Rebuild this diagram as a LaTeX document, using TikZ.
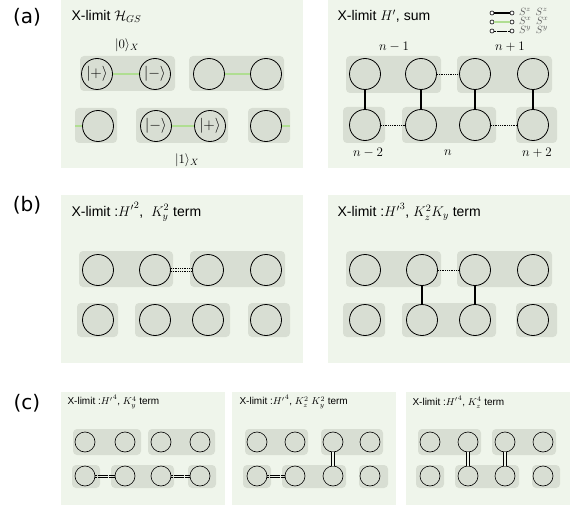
\documentclass[tikz,border=0pt]{standalone}
\usepackage{fix-cm}
\usepackage{amsmath, amssymb}
\usepackage[no-math]{fontspec}
\setmainfont{Liberation Sans}
\newfontfamily\labfont{DejaVu Sans}
\definecolor{panelbg}{RGB}{239,245,235}
\definecolor{boxgray}{RGB}{216,222,211}
\definecolor{xgreen}{RGB}{112,186,82}
\definecolor{xgreenlight}{RGB}{176,222,146}
\definecolor{leggray}{RGB}{95,95,95}

\begin{document}
\begin{tikzpicture}[x=1pt, y=-1pt,
    panel/.style={fill=panelbg},
    pairbox/.style={fill=boxgray, rounded corners=4pt},
    site/.style={circle, draw, line width=0.8pt, minimum size=31pt, inner sep=0pt, font=\fontsize{15}{15}\selectfont},
    smallsite/.style={circle, draw, line width=0.6pt, minimum size=20pt, inner sep=0pt},
    zz/.style={line width=1.8pt},
    xx/.style={draw=xgreen, double=xgreenlight, double distance=1.1pt, line width=0.7pt},
    yy/.style={line width=0.9pt, dash pattern=on 0.9pt off 0.9pt},
    yysmall/.style={line width=0.6pt, dash pattern=on 0.5pt off 0.6pt},
    zzdouble/.style={draw=black, double=panelbg, line width=0.8pt, double distance=2pt},
    legdot/.style={circle, draw, fill=white, line width=0.6pt, minimum size=4pt, inner sep=0pt},
    legtext/.style={anchor=west, text=leggray, font=\fontsize{10.5}{10.5}\selectfont, inner sep=0pt},
    title/.style={anchor=west, font=\fontsize{14}{16}\selectfont},
    smalltitle/.style={anchor=west, font=\fontsize{10}{12}\selectfont},
    partlabel/.style={font=\labfont\fontsize{20}{22}\selectfont},
    sitelabel/.style={font=\fontsize{13}{15}\selectfont}]
    \useasboundingbox (0,0) rectangle (581,508);

    % Panels
    \fill[panel] (61,0) rectangle (303,168);
    \fill[panel] (328,0) rectangle (570,168);
    \fill[panel] (61,195) rectangle (303,363);
    \fill[panel] (328,195) rectangle (570,363);
    \fill[panel] (61,392) rectangle (225,505);
    \fill[panel] (232,392) rectangle (396,505);
    \fill[panel] (406,392) rectangle (570,505);

    % Boxes (a)
    \fill[pairbox] (80,56) rectangle (175,91);
    \fill[pairbox] (189,56) rectangle (284,91);
    \fill[pairbox] (75,108) rectangle (117,143);
    \fill[pairbox] (136,108) rectangle (228,143);
    \fill[pairbox] (248,108) rectangle (290,143);
    \fill[pairbox] (346,56) rectangle (441,93);
    \fill[pairbox] (457,56) rectangle (552,93);
    \fill[pairbox] (343,107) rectangle (385,143);
    \fill[pairbox] (402,107) rectangle (496,143);
    \fill[pairbox] (516,107) rectangle (557,143);

    % Boxes (b)
    \fill[pairbox] (79,251) rectangle (173,287);
    \fill[pairbox] (190,251) rectangle (285,287);
    \fill[pairbox] (77,303) rectangle (118,337);
    \fill[pairbox] (135,303) rectangle (230,337);
    \fill[pairbox] (248,303) rectangle (290,337);
    \fill[pairbox] (346,251) rectangle (441,287);
    \fill[pairbox] (457,251) rectangle (552,287);
    \fill[pairbox] (343,303) rectangle (385,337);
    \fill[pairbox] (402,303) rectangle (496,337);
    \fill[pairbox] (516,303) rectangle (557,337);

    % Boxes (c)
    \fill[pairbox] (73,429) rectangle (141,455);
    \fill[pairbox] (148,429) rectangle (215,455);
    \fill[pairbox] (72,465) rectangle (100,488);
    \fill[pairbox] (111,465) rectangle (174,488);
    \fill[pairbox] (188,465) rectangle (216,488);
    \fill[pairbox] (245,429) rectangle (308,455);
    \fill[pairbox] (321,429) rectangle (383,455);
    \fill[pairbox] (243,465) rectangle (271,488);
    \fill[pairbox] (282,465) rectangle (346,488);
    \fill[pairbox] (359,465) rectangle (388,488);
    \fill[pairbox] (418,429) rectangle (481,455);
    \fill[pairbox] (492,429) rectangle (556,455);
    \fill[pairbox] (416,465) rectangle (444,488);
    \fill[pairbox] (455,465) rectangle (519,488);
    \fill[pairbox] (532,465) rectangle (560,488);

    % Draw nodes (a)
    \node[site] (aL11) at (97,74) {$|{+}\rangle$};
    \node[site] (aL12) at (155,74) {$|{-}\rangle$};
    \node[site] (aL13) at (209,74) {};
    \node[site] (aL14) at (266,74) {};
    \node[site] (aL21) at (98,126) {};
    \node[site] (aL22) at (156,126) {$|{-}\rangle$};
    \node[site] (aL23) at (210,126) {$|{+}\rangle$};
    \node[site] (aL24) at (266,126) {};
    \coordinate (aLin) at (75,126);
    \coordinate (aLout) at (290,126);
    \node[site] (aR11) at (365,74) {};
    \node[site] (aR12) at (421,74) {};
    \node[site] (aR13) at (475,74) {};
    \node[site] (aR14) at (533,74) {};
    \node[site] (aR21) at (365,125) {};
    \node[site] (aR22) at (421,125) {};
    \node[site] (aR23) at (475,125) {};
    \node[site] (aR24) at (533,125) {};

    % Draw nodes (b)
    \node[site] (bL11) at (98,270) {};
    \node[site] (bL12) at (155,270) {};
    \node[site] (bL13) at (208,270) {};
    \node[site] (bL14) at (266,270) {};
    \node[site] (bL21) at (98,320) {};
    \node[site] (bL22) at (155,320) {};
    \node[site] (bL23) at (208,320) {};
    \node[site] (bL24) at (266,320) {};
    \node[site] (bR11) at (365,270) {};
    \node[site] (bR12) at (422,270) {};
    \node[site] (bR13) at (475,270) {};
    \node[site] (bR14) at (533,270) {};
    \node[site] (bR21) at (365,320) {};
    \node[site] (bR22) at (422,320) {};
    \node[site] (bR23) at (475,320) {};
    \node[site] (bR24) at (533,320) {};

    % Draw nodes (c)
    \node[smallsite] (c111) at (85,442) {};
    \node[smallsite] (c112) at (125,442) {};
    \node[smallsite] (c113) at (161,442) {};
    \node[smallsite] (c114) at (200,442) {};
    \node[smallsite] (c121) at (85,476) {};
    \node[smallsite] (c122) at (125,476) {};
    \node[smallsite] (c123) at (161,476) {};
    \node[smallsite] (c124) at (200,476) {};
    \node[smallsite] (c211) at (257,442) {};
    \node[smallsite] (c212) at (295,442) {};
    \node[smallsite] (c213) at (333,442) {};
    \node[smallsite] (c214) at (370,442) {};
    \node[smallsite] (c221) at (257,476) {};
    \node[smallsite] (c222) at (295,476) {};
    \node[smallsite] (c223) at (333,476) {};
    \node[smallsite] (c224) at (370,476) {};
    \node[smallsite] (c311) at (430,442) {};
    \node[smallsite] (c312) at (468,442) {};
    \node[smallsite] (c313) at (505,442) {};
    \node[smallsite] (c314) at (543,442) {};
    \node[smallsite] (c321) at (430,476) {};
    \node[smallsite] (c322) at (468,476) {};
    \node[smallsite] (c323) at (505,476) {};
    \node[smallsite] (c324) at (543,476) {};

    % Legend
    \node[legdot] (lz1) at (492,13) {};
    \node[legdot] (lz2) at (512,13) {};
    \node[legdot] (lx1) at (492,22) {};
    \node[legdot] (lx2) at (512,22) {};
    \node[legdot] (ly1) at (492,31) {};
    \node[legdot] (ly2) at (512,31) {};
    \draw[line width=1.4pt] (lz1) -- (lz2);
    \draw[xx] (lx1) -- (lx2);
    \draw[yysmall] (ly1) -- (ly2);
    \node[legtext] (lzt) at (519,12) {$S^z\;\,S^z$};
    \node[legtext] (lxt) at (519,21) {$S^x\;\,S^x$};
    \node[legtext] (lyt) at (519,30) {$S^y\;\,S^y$};

    % Draw connections (a)
    \draw[xx] (aL11) -- (aL12);
    \draw[xx] (aL13) -- (aL14);
    \draw[xx] (aLin) -- (aL21);
    \draw[xx] (aL22) -- (aL23);
    \draw[xx] (aL24) -- (aLout);
    \draw[zz] (aR11) -- (aR21);
    \draw[zz] (aR12) -- (aR22);
    \draw[zz] (aR13) -- (aR23);
    \draw[zz] (aR14) -- (aR24);
    \draw[yy] (aR12) -- (aR13);
    \draw[yy] (aR21) -- (aR22);
    \draw[yy] (aR23) -- (aR24);

    % Draw connections (b)
    \draw[yy, transform canvas={yshift=1.5pt}] (bL12) -- (bL13);
    \draw[yy, transform canvas={yshift=-1.5pt}] (bL12) -- (bL13);
    \draw[yy] (bR12) -- (bR13);
    \draw[zz] (bR12) -- (bR22);
    \draw[zz] (bR13) -- (bR23);

    % Draw connections (c)
    \draw[yysmall, transform canvas={yshift=1.2pt}] (c121) -- (c122);
    \draw[yysmall, transform canvas={yshift=-1.2pt}] (c121) -- (c122);
    \draw[yysmall, transform canvas={yshift=1.2pt}] (c123) -- (c124);
    \draw[yysmall, transform canvas={yshift=-1.2pt}] (c123) -- (c124);
    \draw[yysmall, transform canvas={yshift=1.2pt}] (c221) -- (c222);
    \draw[yysmall, transform canvas={yshift=-1.2pt}] (c221) -- (c222);
    \draw[zzdouble] (c213) -- (c223);
    \draw[zzdouble] (c312) -- (c322);
    \draw[zzdouble] (c313) -- (c323);

    % Labels
    \node[partlabel] (pa) at (27,17) {(a)};
    \node[partlabel] (pb) at (27,205) {(b)};
    \node[partlabel] (pc) at (27,403) {(c)};
    \node[title] (taL) at (68,16) {X-limit $\mathcal{H}_{GS}$};
    \node[title] (taR) at (334,16) {X-limit $H'$, sum};
    \node[title] (tbL) at (68,212) {X-limit :${H'}^{2}$,\ \ $K_y^2$ term};
    \node[title] (tbR) at (334,212) {X-limit :${H'}^{3}$, $K_z^2K_y$ term};
    \node[smalltitle] (tc1) at (64,402) {X-limit :${H'}^{4}$, $K_y^4$ term};
    \node[smalltitle] (tc2) at (236,402) {X-limit :${H'}^{4}$, $K_z^2$ $K_y^2$ term};
    \node[smalltitle] (tc3) at (409,402) {X-limit :${H'}^{4}$, $K_z^4$ term};
    \node[sitelabel] (ket0) at (127,45) {$|0\rangle_X$};
    \node[sitelabel] (ket1) at (187,160) {$|1\rangle_X$};
    \node[sitelabel] (nm1) at (394,47) {$n-1$};
    \node[sitelabel] (np1) at (510,47) {$n+1$};
    \node[sitelabel] (nm2) at (368,153) {$n-2$};
    \node[sitelabel] (n0) at (448,153) {$n$};
    \node[sitelabel] (np2) at (537,153) {$n+2$};
\end{tikzpicture}
\end{document}
